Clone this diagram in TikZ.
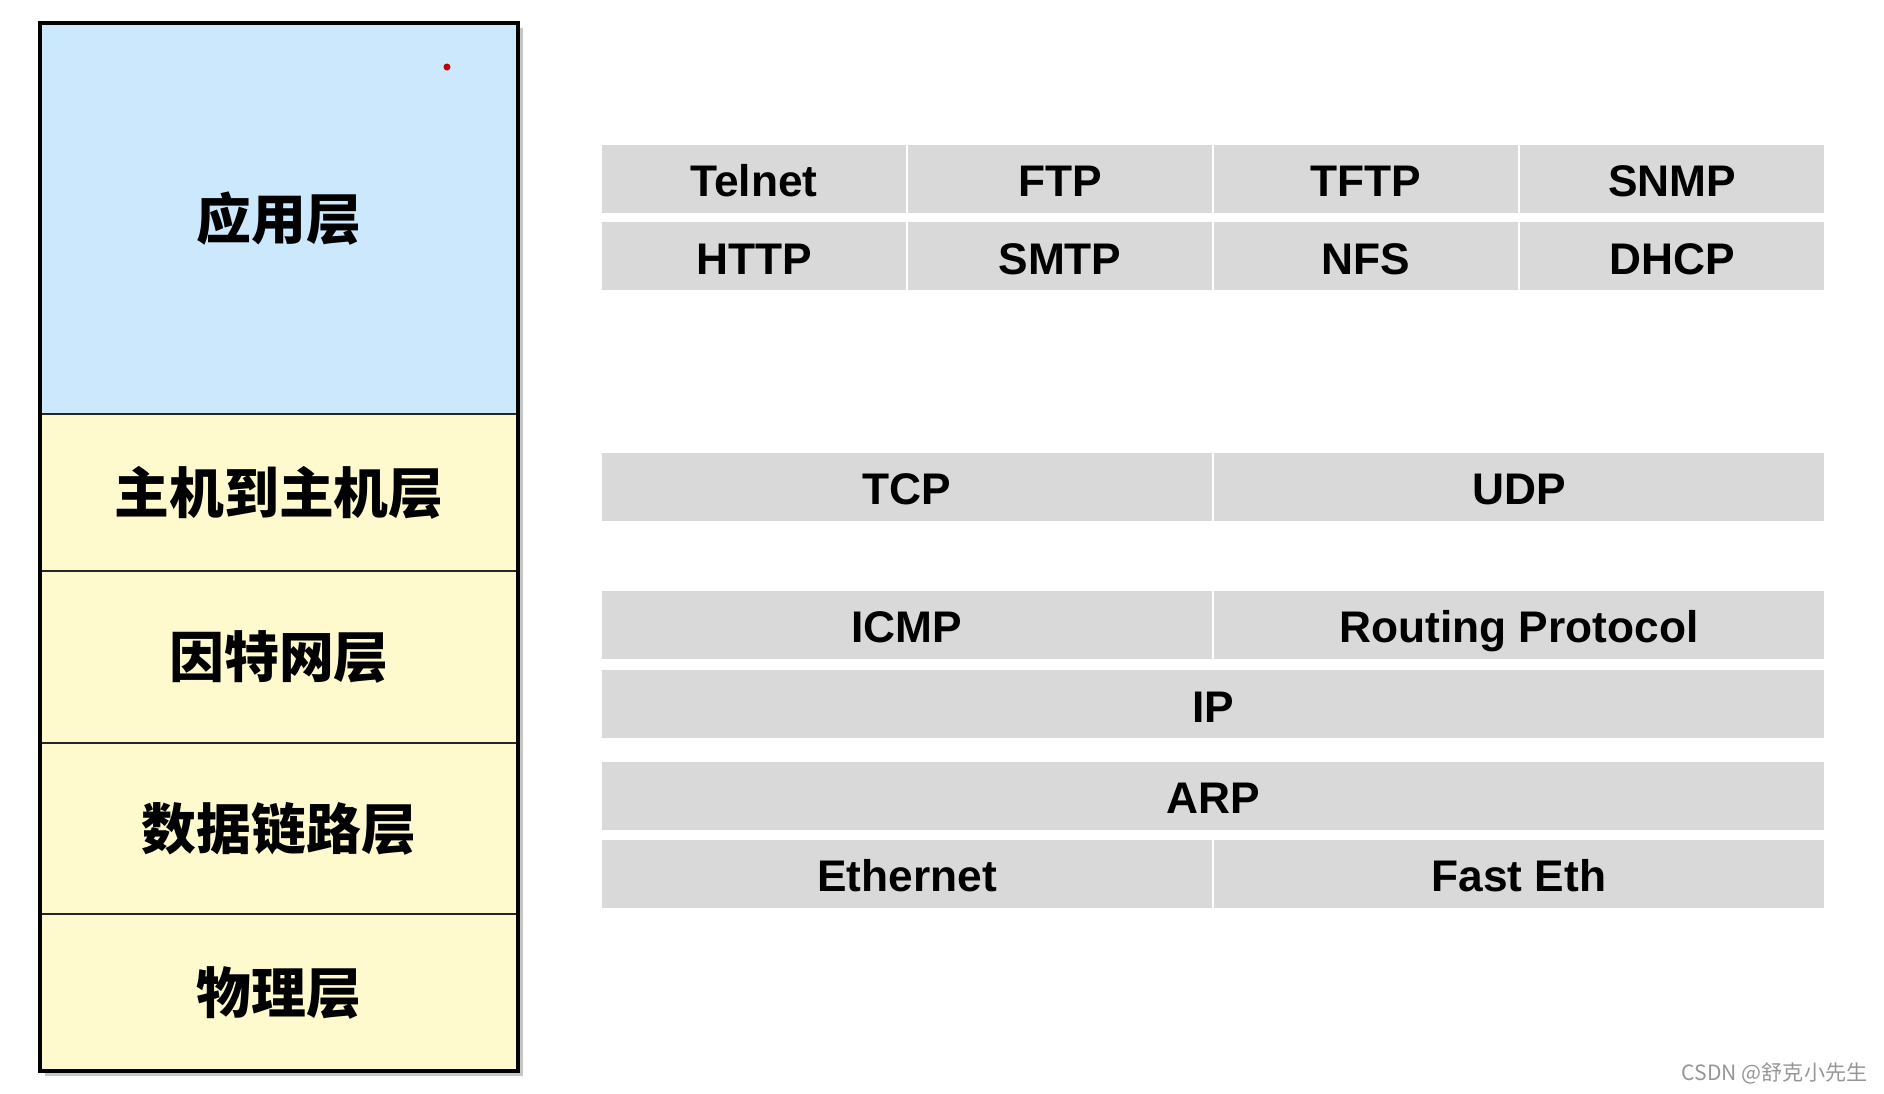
\documentclass[tikz,border=0pt]{standalone}
\usepackage{fontspec}
\setmainfont{Liberation Sans}
\newfontfamily\cjk{Noto Sans CJK SC}
\usetikzlibrary{backgrounds}
\definecolor{appblue}{RGB}{204,232,253}
\definecolor{layeryellow}{RGB}{254,250,206}
\definecolor{cellgray}{RGB}{217,217,217}
\definecolor{markgray}{RGB}{150,150,150}

\begin{document}
\begin{tikzpicture}[thick,
  layer/.style={rectangle,draw=black!85,line width=0.7pt,fill=layeryellow,minimum width=4.78cm,anchor=north,inner sep=0pt,outer sep=0pt,
    text height=1.23em,text depth=0.05em,font=\cjk\bfseries\fontsize{15.6}{18}\selectfont},
  cell/.style={rectangle,fill=cellgray,minimum height=0.68cm,inner sep=0pt,text height=1.04em,text depth=0pt,
    font=\bfseries\fontsize{12.6}{15}\selectfont},
  quarter/.style={cell,minimum width=3.04cm},
  half/.style={cell,minimum width=6.1cm},
  full/.style={cell,minimum width=12.22cm}]

  \useasboundingbox (0,0) rectangle (18.84,-10.93);

  \node[layer,fill=appblue,minimum height=3.91cm] (app) at (2.79,-0.23) {应用层};
  \node[layer,minimum height=1.57cm] (host) at (app.south) {主机到主机层};
  \node[layer,minimum height=1.72cm] (inet) at (host.south) {因特网层};
  \node[layer,minimum height=1.71cm] (link) at (inet.south) {数据链路层};
  \node[layer,minimum height=1.57cm] (phys) at (link.south) {物理层};
  \draw[line width=1.4pt] (app.north west) rectangle (phys.south east);
  \begin{pgfonlayer}{background}
    \fill[black!22] ([shift={(0.05,-0.05)}]app.north west) rectangle ([shift={(0.05,-0.05)}]phys.south east);
  \end{pgfonlayer}
  \fill[red!75!black] (4.47,-0.67) circle (0.035);

  \pgfmathsetmacro\qstep{3.06}
  \foreach \name [count=\i] in {Telnet,FTP,TFTP,SNMP}
    \node[quarter] (a\i) at ({7.54+\qstep*(\i-1)},-1.785) {\name};
  \foreach \name [count=\i] in {HTTP,SMTP,NFS,DHCP}
    \node[quarter] (b\i) at ({7.54+\qstep*(\i-1)},-2.56) {\name};

  \node[half] (tcp) at (9.07,-4.865) {TCP};
  \node[half] (udp) [right of=tcp, node distance=6.12cm] {UDP};
  \node[half] (icmp) at (9.07,-6.245) {ICMP};
  \node[half] (routing) [right of=icmp, node distance=6.12cm] {Routing Protocol};
  \node[full] (ip) at (12.13,-7.04) {IP};
  \node[full] (arp) at (12.13,-7.955) {ARP};
  \node[half] (eth) at (9.07,-8.735) {Ethernet};
  \node[half] (fasteth) [right of=eth, node distance=6.12cm] {Fast Eth};

  \node[anchor=east,inner sep=0pt,text=markgray,font=\cjk\fontsize{6}{7}\selectfont] (mark) at (18.68,-10.73) {CSDN @舒克小先生};

\end{tikzpicture}
\end{document}
